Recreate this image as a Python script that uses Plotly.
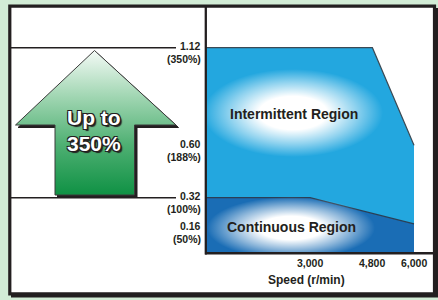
import numpy as np
import plotly.graph_objects as go

W, H = 438, 300

# ---- data ----
speed_ticks = [3000, 4800, 6000]
speed_labels = ["3,000", "4,800", "6,000"]
torque_ticks = [1.12, 0.60, 0.32, 0.16]
torque_labels = ["1.12", "0.60", "0.32", "0.16"]
percent_labels = ["(350%)", "(188%)", "(100%)", "(50%)"]
intermittent_speed = [0, 4800, 6000]
intermittent_torque = [1.12, 1.12, 0.60]
continuous_speed = [0, 3000, 6000]
continuous_torque = [0.32, 0.32, 0.18]
guide_torque = [1.12, 0.32]

# ---- geometry helpers (pixel layout of the picture) ----
PX0, PX1 = 206, 434          # plot area x pixels
PY0, PY1 = 6, 253            # plot area y pixels
RPM_PER_PX = 6000 / 208.0
X_MAX = (PX1 - PX0) * RPM_PER_PX
UNIT_PER_PX = 0.8 / 150.0
Y_TOP = 1.12 + (47.7 - PY0) * UNIT_PER_PX
Y_BOT = Y_TOP - (PY1 - PY0) * UNIT_PER_PX


def dx(p):
    return (p - PX0) * RPM_PER_PX


def dy(p):
    return Y_TOP - (p - PY0) * UNIT_PER_PX


def pxp(p):
    return p / W


def pyp(p):
    return 1 - p / H


INK = "#231f20"
BG = "#d2ecd6"
FONT = "Arial, 'Liberation Sans', sans-serif"

fig = go.Figure()

# intermittent region
fig.add_trace(go.Scatter(
    x=intermittent_speed, y=intermittent_torque, fill="tozeroy",
    fillcolor="#23a7df", mode="lines", line=dict(color="#3b4a55", width=1.2),
    hoverinfo="skip"))

t = np.linspace(0, 2 * np.pi, 145)


def glow(cx, cy, rx, ry):
    return go.Scatter(
        x=dx(cx + rx * np.cos(t)), y=dy(cy + ry * np.sin(t)), fill="toself",
        mode="lines", line=dict(width=0),
        fillgradient=dict(type="radial", colorscale=[
            [0, "rgba(255,255,255,1)"], [0.38, "rgba(255,255,255,1)"],
            [0.7, "rgba(255,255,255,0.5)"], [1, "rgba(255,255,255,0)"]]),
        hoverinfo="skip")


fig.add_trace(glow(293, 113, 90, 44))

# continuous region
fig.add_trace(go.Scatter(
    x=continuous_speed, y=continuous_torque, fill="tozeroy",
    fillcolor="#1a6db5", mode="lines", line=dict(color="#2b3f55", width=1.2),
    hoverinfo="skip"))
fig.add_trace(glow(291, 228, 84, 31))

# arrow (left panel, x2 in pixel units)
ax = [94.5, 176, 134.5, 134.5, 55, 55, 15.5, 94.5]
ay = [50.5, 125, 125, 195, 195, 125, 125, 50.5]
fig.add_trace(go.Scatter(
    x=[a + 2.5 for a in ax], y=[dy(b + 2.5) for b in ay], xaxis="x2", yaxis="y",
    fill="toself", fillcolor=INK, mode="lines", line=dict(color=INK, width=1),
    hoverinfo="skip"))
fig.add_trace(go.Scatter(
    x=ax, y=[dy(b) for b in ay], xaxis="x2", yaxis="y",
    fill="toself", mode="lines", line=dict(color="#3a3a3a", width=1),
    fillgradient=dict(type="vertical", colorscale=[
        [0, "#0f9144"], [0.35, "#4fb073"], [0.69, "#a3d7b4"], [1, "#f4faf6"]]),
    hoverinfo="skip"))

shapes = [
    dict(type="rect", xref="paper", yref="paper", x0=pxp(11), x1=pxp(438),
         y0=pyp(8), y1=pyp(297.5), fillcolor=INK, line=dict(width=0), layer="below"),
    dict(type="rect", xref="paper", yref="paper", x0=pxp(9.8), x1=pxp(434.5),
         y0=pyp(6.2), y1=pyp(293.8), fillcolor="white",
         line=dict(color=INK, width=3.2), layer="below"),
]
for v in guide_torque:
    shapes.append(dict(type="line", xref="x2", yref="y", x0=11, x1=176, y0=v, y1=v,
                       line=dict(color=INK, width=1.6), layer="below"))
shapes += [
    dict(type="line", xref="paper", yref="paper", x0=pxp(205.8), x1=pxp(205.8),
         y0=pyp(5), y1=pyp(254.5), line=dict(color=INK, width=2.3), layer="above"),
    dict(type="line", xref="paper", yref="paper", x0=pxp(205), x1=pxp(436),
         y0=pyp(253.2), y1=pyp(253.2), line=dict(color=INK, width=2.6), layer="above"),
]

ann = []
tick_font = dict(family=FONT, size=10.5, color=INK, weight="bold")
for v, lab, pct in zip(torque_ticks, torque_labels, percent_labels):
    ann.append(dict(x=pxp(203), xref="paper", y=v, yref="y", text=lab,
                    xanchor="right", yanchor="middle", yshift=1.3,
                    showarrow=False, font=tick_font))
    ann.append(dict(x=pxp(203), xref="paper", y=v, yref="y", text=pct,
                    xanchor="right", yanchor="middle", yshift=-11.3,
                    showarrow=False, font=tick_font))
for v, lab in zip(speed_ticks, speed_labels):
    ann.append(dict(x=v, xref="x", y=pyp(263.3), yref="paper", text=lab,
                    xanchor="center", yanchor="middle", showarrow=False, font=tick_font))


def label(txt, x, y, size, color=INK, shadow=None):
    f = dict(family=FONT, size=size, color=color)
    if shadow:
        f["shadow"] = shadow
    ann.append(dict(x=pxp(x), xref="paper", y=pyp(y), yref="paper",
                    text="<b>" + txt + "</b>", showarrow=False,
                    xanchor="center", yanchor="middle", font=f))


label("Speed (r/min)", 306.7, 280, 12)
label("Intermittent Region", 293.6, 114.3, 14)
label("Continuous Region", 291.8, 226.7, 14)
outline = ("-1px -1px 0 #231f20, 1px -1px 0 #231f20, -1px 1px 0 #231f20, "
           "1px 1px 0 #231f20, 2px 2px 1px #231f20")
label("Up to", 93.8, 117.7, 21, "white", outline)
label("350%", 93.8, 143.8, 21, "white", outline)

fig.update_layout(
    width=W, height=H, margin=dict(l=0, r=0, t=0, b=0),
    paper_bgcolor=BG, plot_bgcolor="rgba(0,0,0,0)",
    showlegend=False, hovermode=False,
    xaxis=dict(domain=[PX0 / W, PX1 / W], range=[0, X_MAX], visible=False),
    yaxis=dict(domain=[1 - PY1 / H, 1 - PY0 / H], range=[Y_BOT, Y_TOP], visible=False),
    xaxis2=dict(domain=[0, PX0 / W], range=[0, PX0], visible=False, anchor="y"),
    shapes=shapes, annotations=ann,
)

fig.write_html("out.html", config={"displayModeBar": False},
               post_script="document.body.style.margin='0';"
                           "document.body.style.background='" + BG + "';")
